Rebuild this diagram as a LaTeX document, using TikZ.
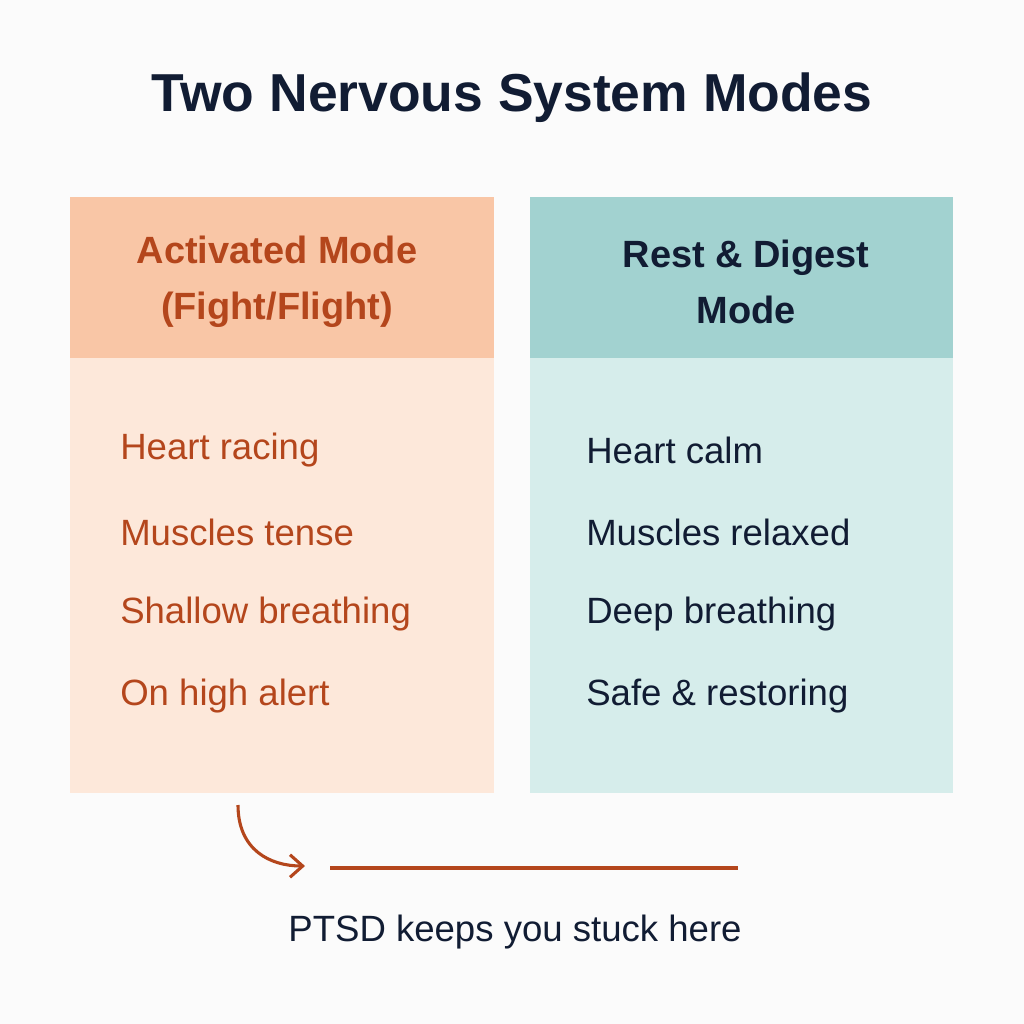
\documentclass[tikz,border=0pt]{standalone}
\usepackage{fontspec}
\setmainfont{Liberation Sans}
\usetikzlibrary{arrows.meta}
\definecolor{warmhead}{HTML}{F9C6A6}
\definecolor{warmbody}{HTML}{FDE8DA}
\definecolor{coolhead}{HTML}{A2D2D0}
\definecolor{coolbody}{HTML}{D6EDEB}
\definecolor{rust}{HTML}{B4461C}
\definecolor{navy}{HTML}{111C33}
\tikzset{
  item/.style={anchor=west,inner sep=0pt,font=\fontsize{26}{30}\selectfont},
  head/.style={align=center,inner sep=0pt,font=\bfseries\fontsize{27}{40}\selectfont},
}
\begin{document}
\begin{tikzpicture}[x=0.025cm,y=-0.025cm]
  \fill[white!97!gray] (0,0) rectangle (1024,1024);
  \useasboundingbox (0,0) rectangle (1024,1024);

  \node[inner sep=0pt,text=navy,font=\bfseries\fontsize{38}{44}\selectfont] (title) at (512,98) {Two Nervous System Modes};

  % left column
  \fill[warmhead] (70,197) rectangle (494,358);
  \fill[warmbody] (70,358) rectangle (494,793);
  \node[head,text=rust] (lhead) at (277,282) {Activated Mode\\(Fight/Flight)};
  \foreach \t [count=\i] in {Heart racing,Muscles tense,Shallow breathing,On high alert}
    \node[item,text=rust] (l\i) at (120,368+82*\i) {\t};

  % right column
  \fill[coolhead] (530,197) rectangle (953,358);
  \fill[coolbody] (530,358) rectangle (953,793);
  \node[head,text=navy] (rhead) at (746,282) {Rest \& Digest\\Mode};
  \foreach \t [count=\i] in {Heart calm,Muscles relaxed,Deep breathing,Safe \& restoring}
    \node[item,text=navy] (r\i) at (586,368+82*\i) {\t};

  % stuck marker
  \coordinate (bend) at (238,805);
  \coordinate (tip) at (305,866);
  \coordinate (lineA) at (330,868);
  \coordinate (lineB) at (738,868);
  \draw[rust,line width=2.2pt,-{Straight Barb[length=9pt,width=16pt]}] (bend) .. controls (238,850) and (270,866) .. (tip);
  \draw[rust,line width=2.2pt] (lineA) -- (lineB);
  \node[inner sep=0pt,text=navy,font=\fontsize{26}{30}\selectfont] (note) at (515,932) {PTSD keeps you stuck here};
\end{tikzpicture}
\end{document}
